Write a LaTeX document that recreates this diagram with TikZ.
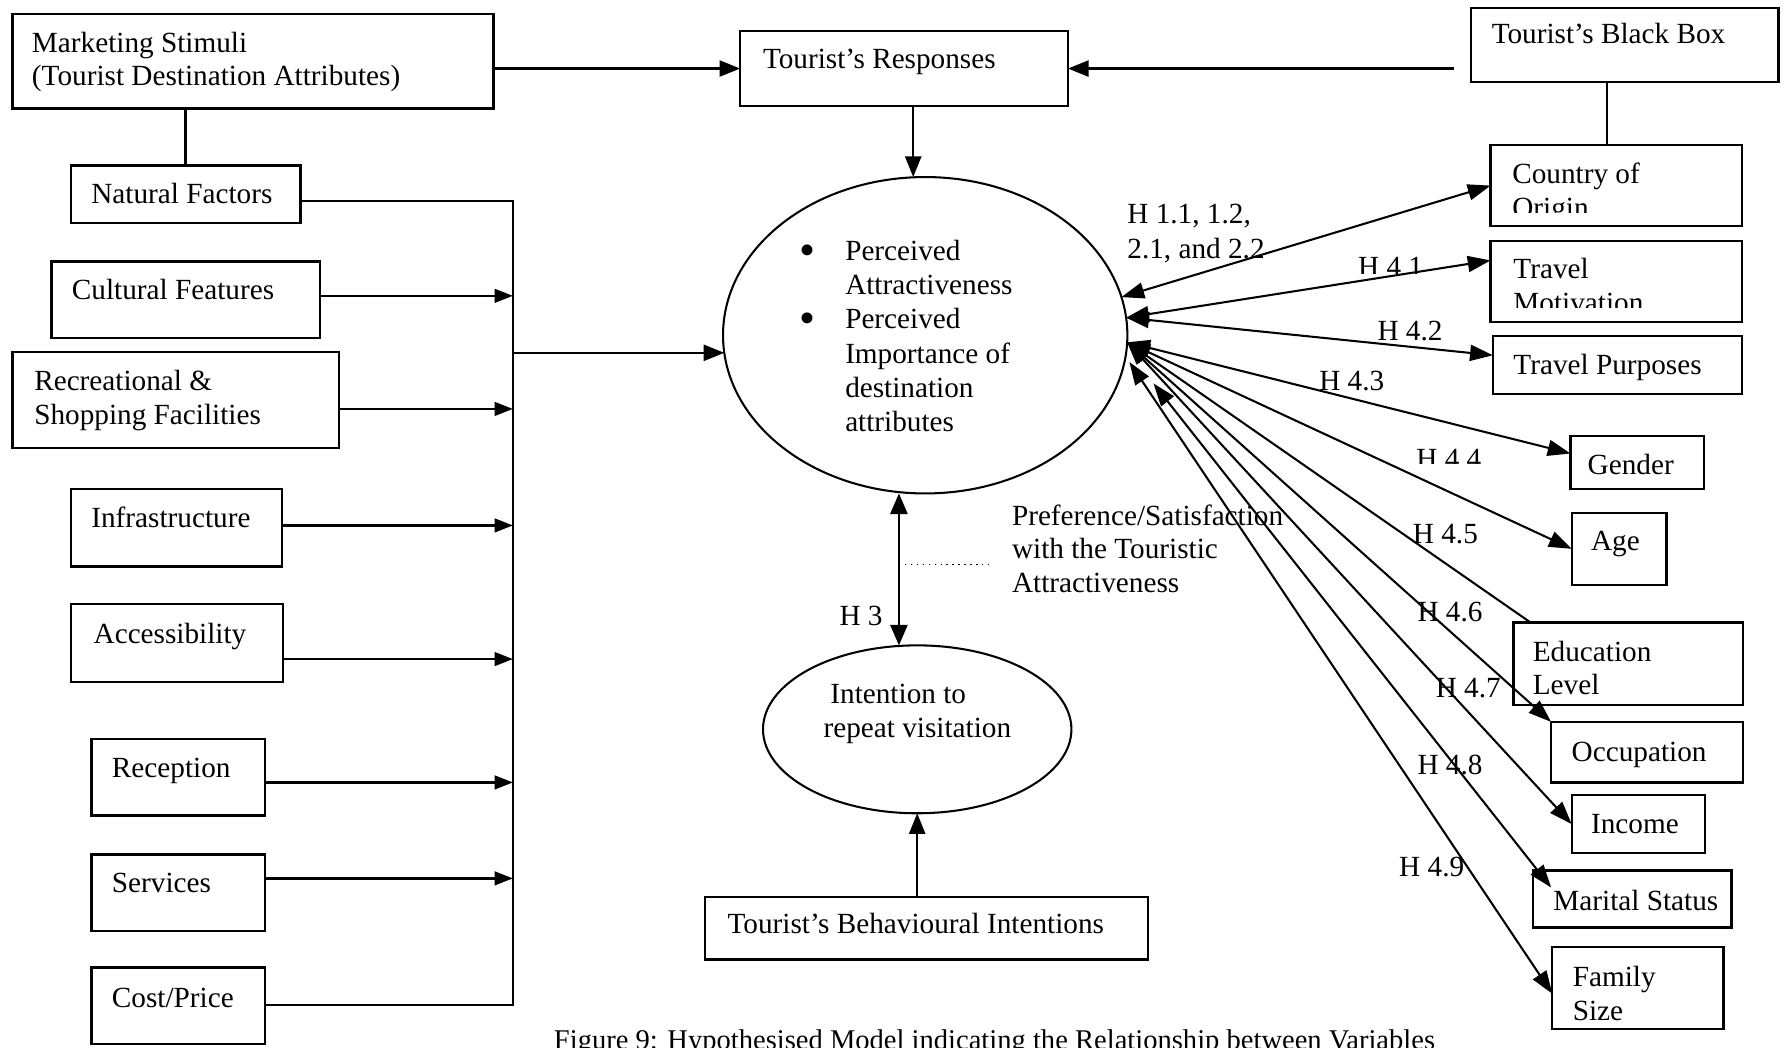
\documentclass[tikz,border=0pt]{standalone}
\usepackage{fontspec}
\setmainfont{Liberation Serif}
\usetikzlibrary{arrows.meta,shapes.geometric}

% several lines of left-aligned text, baseline on the first line
\newcommand\mlines[1]{\begin{tabular}[t]{@{}l@{}}#1\end{tabular}}
% framed box given by its corners: name, x1, y1, x2, y2
\newcommand\drawbox[5]{\node[box, minimum width={(#4-#2)/2}, minimum height={(#5-#3)/2}] (#1) at (#2,#3) {};}
% list bullet of the oval
\newcommand\listdot{\makebox[20pt][l]{\raisebox{-2.2pt}{\fontsize{20}{20}\selectfont •}}}

\begin{document}
\begin{tikzpicture}[x=0.5pt, y=-0.5pt,
  font=\fontsize{12.8}{14.6}\selectfont,
  box/.style={draw, line width=1pt, inner sep=0pt, outer sep=0pt, anchor=north west},
  txt/.style={anchor=base west, inner sep=0pt, outer sep=0pt},
  wide/.style={font=\fontsize{12.8}{15}\selectfont},
  oval/.style={draw, ellipse, line width=0.9pt, inner sep=0pt, outer sep=0pt},
  conn/.style={line width=1pt},
  arr/.style={conn, -{Triangle[length=9pt,width=7pt]}},
  bus/.style={conn, -{Triangle[length=8pt,width=6pt]}},
  dbl/.style={conn, {Triangle[length=9pt,width=7.5pt]}-{Triangle[length=9pt,width=7.5pt]}},
  hyp/.style={line width=0.9pt, {Triangle[length=10pt,width=7pt]}-{Triangle[length=10pt,width=7pt]}},
  hypin/.style={line width=0.9pt, {Triangle[length=10pt,width=7pt]}-},
]
\useasboundingbox (0,0) rectangle (1568,917);
\clip (0,0) rectangle (1568,917);

% ---------- boxes ----------
\drawbox{mk}{11}{12}{432}{95}
\drawbox{nat}{62}{145}{263}{195}
\drawbox{cul}{45}{229}{280}{296}
\drawbox{rec}{11}{308}{297}{392}
\drawbox{inf}{62}{428}{247}{496}
\drawbox{acc}{62}{529}{248}{597}
\drawbox{rcp}{80}{647}{232}{714}
\drawbox{srv}{80}{748}{232}{815}
\drawbox{cst}{80}{847}{232}{914}
\drawbox{tr}{648}{27}{935}{93}
\drawbox{tbi}{617}{785}{1005}{840}
\drawbox{bb}{1288}{7}{1557}{72}
\drawbox{coo}{1305}{127}{1525}{198}
\drawbox{tm}{1305}{211}{1525}{282}
\drawbox{tp}{1307}{294}{1525}{345}
\drawbox{gen}{1375}{382}{1492}{428}
\drawbox{age}{1376}{449}{1459}{512}
\drawbox{edu}{1325}{545}{1526}{617}
\drawbox{occ}{1358}{632}{1526}{685}
\drawbox{inc}{1376}{696}{1493}{747}
\drawbox{mar}{1342}{762}{1516}{812}
\drawbox{fam}{1359}{829}{1509}{901}

% ---------- ellipses ----------
\node[oval, minimum width=177pt, minimum height=138.5pt] (pa) at (810,293.5) {};
\node[oval, minimum width=135pt, minimum height=73.5pt] (irv) at (803,638.5) {};

% ---------- texts ----------
\node[txt] (mkT) at (28,46) {\mlines{Marketing Stimuli\\(Tourist Destination Attributes)}};
\node[txt] (natT) at (80,178) {Natural Factors};
\node[txt] (culT) at (63,262) {Cultural Features};
\node[txt] (recT) at (30,342) {\mlines{Recreational \&\\Shopping Facilities}};
\node[txt] (infT) at (80,462) {Infrastructure};
\node[txt] (accT) at (82,563) {Accessibility};
\node[txt] (rcpT) at (98,681) {Reception};
\node[txt] (srvT) at (98,781) {Services};
\node[txt] (cstT) at (98,882) {Cost/Price};
\node[txt] (trT) at (668,60) {Tourist’s Responses};
\node[txt] (tbiT) at (637,817) {Tourist’s Behavioural Intentions};
\node[txt] (bbT) at (1306,38) {Tourist’s Black Box};
\begin{scope}
  \clip (1300,120) rectangle (1530,186);
  \node[txt] (cooT) at (1324,161) {\mlines{Country of\\Origin}};
\end{scope}
\begin{scope}
  \clip (1300,205) rectangle (1530,269);
  \node[txt] (tmT) at (1325,244) {\mlines{Travel\\Motivation}};
\end{scope}
\node[txt] (tpT) at (1325,328) {Travel Purposes};
\node[txt] (genT) at (1390,415) {Gender};
\node[txt] (ageT) at (1393,482) {Age};
\node[txt] (eduT) at (1342,579) {\mlines{Education\\Level}};
\node[txt] (occT) at (1376,667) {Occupation};
\node[txt] (incT) at (1393,730) {Income};
\node[txt] (marT) at (1360,797) {Marital Status};
\node[txt] (famT) at (1377,864) {\mlines{Family\\Size}};

\node[txt, wide] (paT) at (700,228) {\mlines{\listdot Perceived\\
  \hspace*{20pt}Attractiveness\\
  \listdot Perceived\\
  \hspace*{20pt}Importance of\\
  \hspace*{20pt}destination\\
  \hspace*{20pt}attributes}};
\node[txt, wide] (irvT) at (721,616) {\mlines{\hspace*{3pt}Intention to\\repeat visitation}};
\node[txt] (prefT) at (886,460) {\mlines{Preference/Satisfaction\\with the Touristic\\Attractiveness}};
\node[txt] (h3) at (735,548) {H 3};

\node[txt, wide] (h1) at (987,196) {\mlines{H 1.1, 1.2,\\2.1, and 2.2}};
\begin{scope}
  \clip (1180,215) rectangle (1260,239);
  \node[txt] (h41) at (1189,242) {H 4.1};
\end{scope}
\node[txt] (h42) at (1206,298) {H 4.2};
\node[txt] (h43) at (1155,342) {H 4.3};
\begin{scope}
  \clip (1230,380) rectangle (1310,406);
  \node[txt] (h44) at (1240,410) {H 4.4};
\end{scope}
\node[txt] (h45) at (1237,476) {H 4.5};
\node[txt] (h46) at (1241,544) {H 4.6};
\node[txt] (h47) at (1257,611) {H 4.7};
\node[txt] (h48) at (1241,678) {H 4.8};
\node[txt] (h49) at (1225,767) {H 4.9};

\node[txt, font=\fontsize{12.5}{14}\selectfont] (cap) at (485,919)
  {Figure 9: Hypothesised Model indicating the Relationship between Variables};

% ---------- connectors: top row ----------
\draw[conn] (nat.north) -- (nat.north |- mk.south);
\draw[arr] (mk.east |- tr.west) -- (tr.west);
\draw[arr, shorten <=7.5pt] (bb.west |- tr.east) -- (tr.east);
\draw[conn] ([xshift=-4pt]coo.north) coordinate (cooTop) -- (cooTop |- bb.south);
\draw[arr] ([xshift=4pt]tr.south) coordinate (trFoot) -- (trFoot |- pa.north);

% ---------- attribute collector ----------
\coordinate (busTop) at (449,176);
\coordinate (busBot) at (449,880);
\draw[conn] ([yshift=-3pt]nat.east) -- (busTop) -- (busBot) -- (cst.east |- busBot);
\draw[bus] ([yshift=1.75pt]cul.east) coordinate (a1) -- (a1 -| busTop);
\draw[bus] ([yshift=-4pt]rec.east) coordinate (a2) -- (a2 -| busTop);
\draw[bus] ([yshift=1pt]inf.east) coordinate (a3) -- (a3 -| busTop);
\draw[bus] ([yshift=-7pt]acc.east) coordinate (a4) -- (a4 -| busTop);
\draw[bus] ([yshift=-2.25pt]rcp.east) coordinate (a5) -- (a5 -| busTop);
\draw[bus] ([yshift=6.25pt]srv.east) coordinate (a6) -- (a6 -| busTop);
\draw[arr] (busTop |- pa.185) -- (pa.185);

% ---------- centre column ----------
\draw[dbl] ([xshift=-11.5pt]pa.south) -- ([xshift=-8pt]irv.north);
\coordinate (dotA) at (787,494);
\coordinate (dotB) at (868,494);
\draw[dotted, line width=0.6pt] (dotA) -- (dotB);
\draw[arr] (tbi.north -| irv.south) -- (irv.south);

% ---------- hypotheses to the black-box variables ----------
\draw[hyp] (pa.11) -- (coo.west);
\draw[hyp] (pa.5) -- ([yshift=-8.5pt]tm.north west);
\draw[hyp] (pa.5) -- ([yshift=-8.5pt]tp.north west);
\draw[hyp] (pa.-2) -- ([yshift=-7.5pt]gen.north west);
\draw[hyp] (pa.-2) -- (age.west);
\draw[hypin] (pa.-2) -- ([xshift=7.5pt]edu.north west);
\draw[hyp] (pa.-2) -- (occ.north west);
\draw[hyp] (pa.-2) -- (inc.west);
\draw[hyp, shorten <=19pt] (pa.-4) -- ([xshift=8pt,yshift=-7.5pt]mar.north west);
\draw[hyp, shorten <=3pt] (pa.-6) -- ([yshift=-20.5pt]fam.north west);
\end{tikzpicture}
\end{document}
